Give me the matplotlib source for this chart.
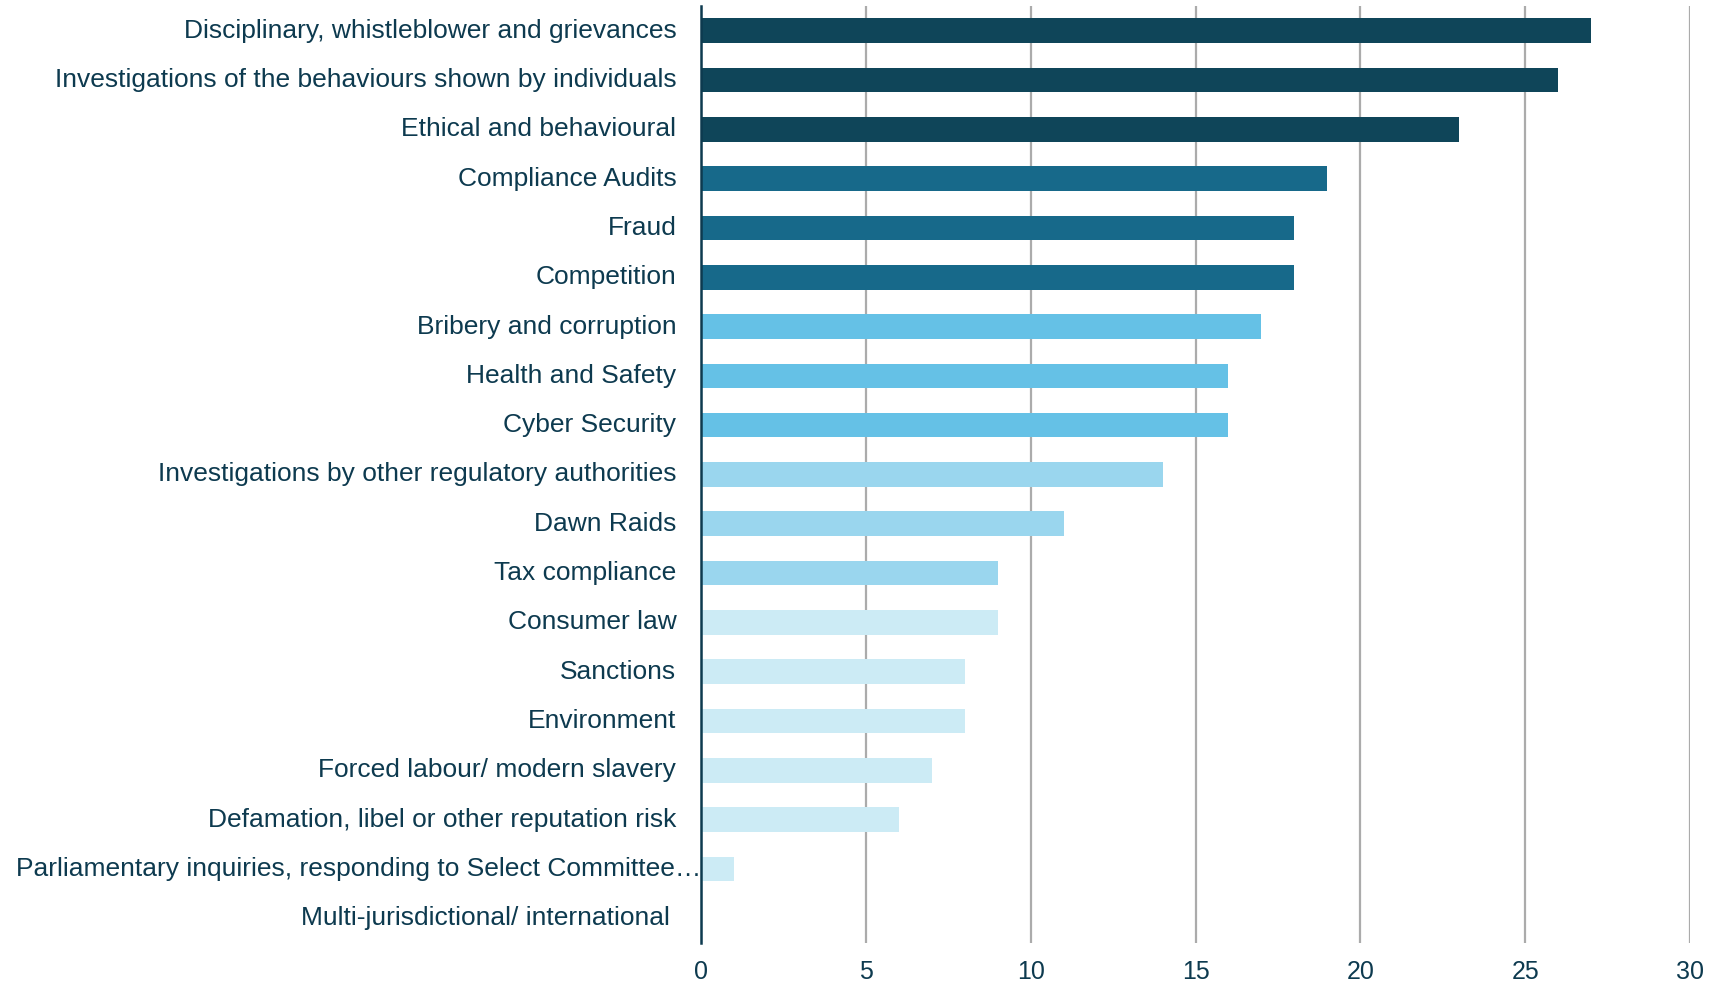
import matplotlib
matplotlib.use('Agg')
import matplotlib.pyplot as plt

categories = [
    'Disciplinary, whistleblower and grievances',
    'Investigations of the behaviours shown by individuals',
    'Ethical and behavioural',
    'Compliance Audits',
    'Fraud',
    'Competition',
    'Bribery and corruption',
    'Health and Safety',
    'Cyber Security',
    'Investigations by other regulatory authorities',
    'Dawn Raids',
    'Tax compliance',
    'Consumer law',
    'Sanctions',
    'Environment',
    'Forced labour/ modern slavery',
    'Defamation, libel or other reputation risk',
    'Parliamentary inquiries, responding to Select Committee\u2026',
    'Multi-jurisdictional/ international',
]
values = [27, 26, 23, 19, 18, 18, 17, 16, 16, 14, 11, 9, 9, 8, 8, 7, 6, 1, 0]
# colour group of each bar (0 = darkest)
groups = [0, 0, 0, 1, 1, 1, 2, 2, 2, 3, 3, 3, 4, 4, 4, 4, 4, 4, 4]
palette = ['#0F4559', '#17698A', '#65C1E6', '#9AD6EE', '#CCEBF5']
xticks = [0, 5, 10, 15, 20, 25, 30]

text_col = '#0D3A4F'
plt.rcParams['font.family'] = ['Liberation Sans', 'DejaVu Sans']

fig = plt.figure(figsize=(17.09, 9.84), dpi=100)
ax = fig.add_axes([0.4102, 0.0417, 0.5787, 0.9522])

ypos = list(range(len(categories)))
ax.barh(ypos, values, height=0.5, color=[palette[g] for g in groups], zorder=3)

ax.set_ylim(len(categories) - 0.5, -0.5)
ax.set_xlim(0, 30)
ax.set_xticks(xticks)
ax.set_xticklabels([str(t) for t in xticks], fontsize=18, color=text_col)
ax.tick_params(axis='x', length=0, pad=12)
ax.tick_params(axis='y', length=0)
ax.set_yticks([])

ax.grid(axis='x', color='#ABABAB', linewidth=1.6, zorder=0)
for s in ['top', 'right', 'bottom']:
    ax.spines[s].set_visible(False)
ax.spines['left'].set_color(text_col)
ax.spines['left'].set_linewidth(1.8)
ax.spines['left'].set_zorder(4)

# category labels drawn as text so the truncated one can run to the axis
for i, lab in enumerate(categories):
    x = -0.75
    if lab.endswith('\u2026'):
        x = 0.0
    elif i == len(categories) - 1:
        x = -0.95
    ax.text(x, i, lab, ha='right', va='center', fontsize=19, color=text_col)

fig.savefig('out.png', dpi=100)
